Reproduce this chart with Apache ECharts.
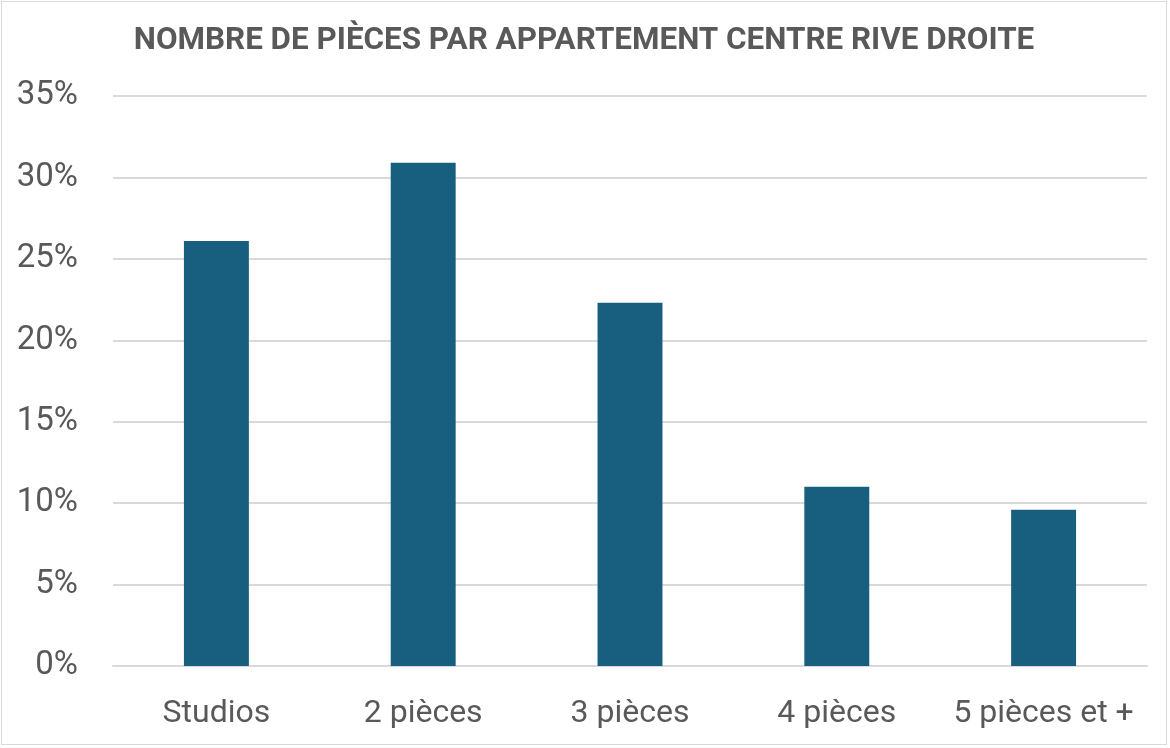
<!DOCTYPE html>
<html><head><meta charset="utf-8">
<script src="https://cdn.jsdelivr.net/npm/echarts@6/dist/echarts.min.js"></script>
<style>
html,body{margin:0;padding:0;background:#fff;}
#c{position:absolute;left:1px;top:1px;width:1166px;height:744px;border:1.5px solid #d9d9d9;box-sizing:border-box;}
</style></head>
<body><div id="c"></div>
<script>
const categories = ['Studios', '2 pièces', '3 pièces', '4 pièces', '5 pièces et +'];
const values = [26.1, 30.9, 22.3, 11.0, 9.6];
const titleText = 'NOMBRE DE PIÈCES PAR APPARTEMENT CENTRE RIVE DROITE';

const chart = echarts.init(document.getElementById('c'), null, {renderer: 'canvas'});
chart.setOption({
  animation: false,
  title: {
    text: titleText,
    left: 'center',
    top: 19,
    textStyle: {fontFamily: 'Roboto', fontWeight: 'bold', fontSize: 31.4, color: '#595959'}
  },
  grid: {left: 111, right: 19, top: 94, bottom: 78},
  xAxis: {
    type: 'category',
    data: categories,
    axisLine: {show: true, lineStyle: {color: '#d9d9d9', width: 2}},
    axisTick: {show: false},
    axisLabel: {interval: 0, fontFamily: 'Roboto', fontSize: 32, color: '#595959', margin: 32}
  },
  yAxis: {
    type: 'value',
    min: 0, max: 35, interval: 5,
    axisLine: {show: false},
    axisTick: {show: false},
    splitLine: {lineStyle: {color: '#d9d9d9', width: 2}},
    axisLabel: {fontFamily: 'Roboto', fontSize: 33, color: '#595959', margin: 35, formatter: v => v + '%'}
  },
  series: [{
    type: 'bar',
    data: values,
    barWidth: '31.4%',
    itemStyle: {color: '#185f7f'}
  }]
});
</script></body></html>
